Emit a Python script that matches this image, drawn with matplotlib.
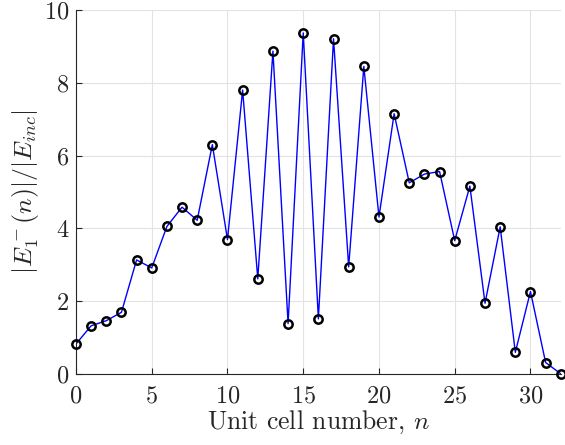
import numpy as np
import matplotlib
matplotlib.use("Agg")
import matplotlib.pyplot as plt

plt.rcParams['font.family'] = 'serif'
plt.rcParams['font.serif'] = ['cmr10']
plt.rcParams['mathtext.fontset'] = 'cm'
plt.rcParams['axes.formatter.use_mathtext'] = True

# field amplitude per unit cell
cells = np.arange(0, 33)
amp = [0.82, 1.32, 1.46, 1.69, 3.13, 2.91, 4.05, 4.58, 4.22, 6.30,
       3.69, 7.80, 2.61, 8.87, 1.38, 9.37, 1.51, 9.21, 2.94, 8.45,
       4.31, 7.15, 5.25, 5.49, 5.56, 3.66, 5.16, 1.94, 4.04, 0.59,
       2.26, 0.31, 0.0]
xticks = [0, 5, 10, 15, 20, 25, 30]
yticks = [0, 2, 4, 6, 8, 10]

fig = plt.figure(figsize=(5.65, 4.45), dpi=100)
ax = fig.add_axes([0.1345, 0.16, 0.858, 0.8175])

ax.plot(cells, amp, '-', color='blue', lw=1.0, zorder=2)
ax.plot(cells, amp, 'o', mfc='none', mec='black', mew=1.8, ms=6, zorder=3, clip_on=False)

ax.set_xlim(0, 32)
ax.set_ylim(0, 10)
ax.set_xticks(xticks)
ax.set_yticks(yticks)
ax.grid(True, color='#e3e3e3', lw=0.8)
ax.set_axisbelow(True)
for s in ['top', 'right']:
    ax.spines[s].set_visible(False)
for s in ['left', 'bottom']:
    ax.spines[s].set_color('#262626')
    ax.spines[s].set_linewidth(0.8)
ax.tick_params(direction='in', length=4, width=0.8, colors='#262626', labelsize=17.5, pad=5)
ax.tick_params(axis='x', pad=8)

ax.set_xlabel(r'Unit cell number, $n$', fontsize=18.5, color='#262626', labelpad=1)
ax.set_ylabel(r'$|E_1^-(n)|/|E_{inc}|$', fontsize=18.5, color='#262626', labelpad=2)

fig.savefig('out.png', dpi=100)
